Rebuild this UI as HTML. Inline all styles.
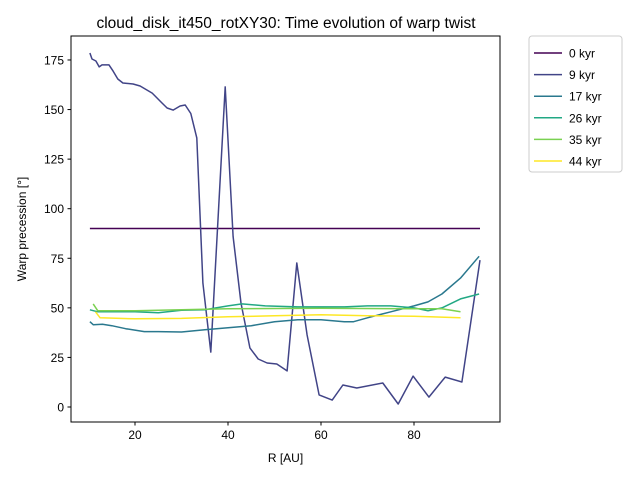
<!DOCTYPE html>
<html><head><meta charset="utf-8"><style>
body{margin:0;background:#fff}
svg{font-family:"Liberation Sans","DejaVu Sans",sans-serif}
</style></head><body>
<svg id="chart" width="640" height="480" viewBox="0 0 640 480" xmlns="http://www.w3.org/2000/svg">
<rect width="640" height="480" fill="#fff"/>
<text x="286" y="28" font-size="15.5" text-anchor="middle">cloud_disk_it450_rotXY30: Time evolution of warp twist</text>
<g id="plot"></g>
<rect x="71" y="36" width="429" height="386" fill="none" stroke="#000" stroke-width="1"/>
<text x="285.5" y="462" font-size="12" text-anchor="middle">R [AU]</text>
<text transform="translate(26,229) rotate(-90)" font-size="12" text-anchor="middle">Warp precession [°]</text>
<g id="legend"></g>
</svg>
<script>
const labels=["0 kyr","9 kyr","17 kyr","26 kyr","35 kyr","44 kyr"];
const colors=["#440154","#414487","#2a788e","#22a884","#7ad151","#fde725"];
const xTicks=[20,40,60,80];
const yTicks=[0,25,50,75,100,125,150,175];
const r0=[10.3,94.2];
const v0=[90,90];
const r9=[10.3,10.75,11.6,12.3,12.9,14.4,15.3,16.3,17.4,19.6,21.1,23.7,25.8,26.9,28.2,29.7,30.8,32.0,33.3,34.6,36.3,39.4,41.1,42.8,44.7,46.5,48.4,50.5,52.7,54.8,57.0,59.6,62.4,64.7,67.7,73.3,76.6,79.8,83.2,86.7,90.3,94.2];
const v9=[178.5,175.5,174.5,171.5,172.5,172.5,169.4,165.4,163.4,162.9,161.9,158.3,153.3,150.8,149.7,151.8,152.3,148,135.7,62.5,27.7,161.4,86,52.4,29.8,24.2,22.2,21.7,18.2,72.6,36.3,6.1,3.5,11.1,9.6,12.1,1.5,15.6,5.0,15.1,12.6,74.1];
const r17=[10.3,11,13,15,18,22,25,30,35,40,45,50,55,60,65,67,70,75,80,83,86,90,94];
const v17=[43,41.5,41.7,41,39.5,38,38,37.8,39,40,41,43,44,44,43,43,45,48,51,53,57,65,76];
const r26=[10.3,12,20,25,30,35,40,43,48,55,65,70,75,80,83,86,90,94];
const v26=[49,48,48,47.5,48.8,49,51,52,51,50.5,50.5,51,51,50,48.5,50,54.5,57];
const r35=[11,12,20,30,40,60,80,86,90];
const v35=[52,48.5,48.5,49,49.5,49.8,49.5,49.5,48];
const r44=[11.5,12.5,20,30,40,50,60,70,80,90];
const v44=[48,45,44.5,44.7,45.5,46,46.5,46,45.8,45];
const seriesR=[r0,r9,r17,r26,r35,r44];
const seriesV=[v0,v9,v17,v26,v35,v44];
const NS="http://www.w3.org/2000/svg";
function sx(r){return 42+r*4.65;}
function sy(v){return 407-v*1.983;}
const plot=document.getElementById('plot');
function mk(t,a,p){const e=document.createElementNS(NS,t);for(const k in a)e.setAttribute(k,a[k]);(p||plot).appendChild(e);return e;}
xTicks.forEach(t=>{
 const l=mk('line',{x1:sx(t),x2:sx(t),y1:422,y2:425.5,stroke:'#000'});
 
 
 const tx=mk('text',{x:sx(t),y:439,'font-size':12,'text-anchor':'middle'});tx.textContent=t;
 
 
});
yTicks.forEach(t=>{
 const l=mk('line',{x1:67.5,x2:71,y1:sy(t),y2:sy(t),stroke:'#000'});
 
 
 const tx=mk('text',{x:64,y:sy(t)+4.5,'font-size':12,'text-anchor':'end'});tx.textContent=t;
 
 
});
seriesR.forEach((rs,i)=>{
 const pts=rs.map((r,j)=>sx(r).toFixed(1)+','+sy(seriesV[i][j]).toFixed(1)).join(' ');
 const p=mk('polyline',{points:pts,fill:'none',stroke:colors[i],'stroke-width':1.5,'stroke-linejoin':'round'});
 
 
});
const lg=document.getElementById('legend');
mk('rect',{x:529,y:36,width:93,height:136,rx:3,fill:'#fff',stroke:'#ccc'},lg);
labels.forEach((lb,i)=>{
 const y=53+i*21.6;
 const l=mk('line',{x1:534,x2:562,y1:y,y2:y,stroke:colors[i],'stroke-width':1.5},lg);
 
 
 const t=mk('text',{x:569,y:y+4.5,'font-size':12},lg);t.textContent=lb;
 
 
});
</script>
</body></html>
